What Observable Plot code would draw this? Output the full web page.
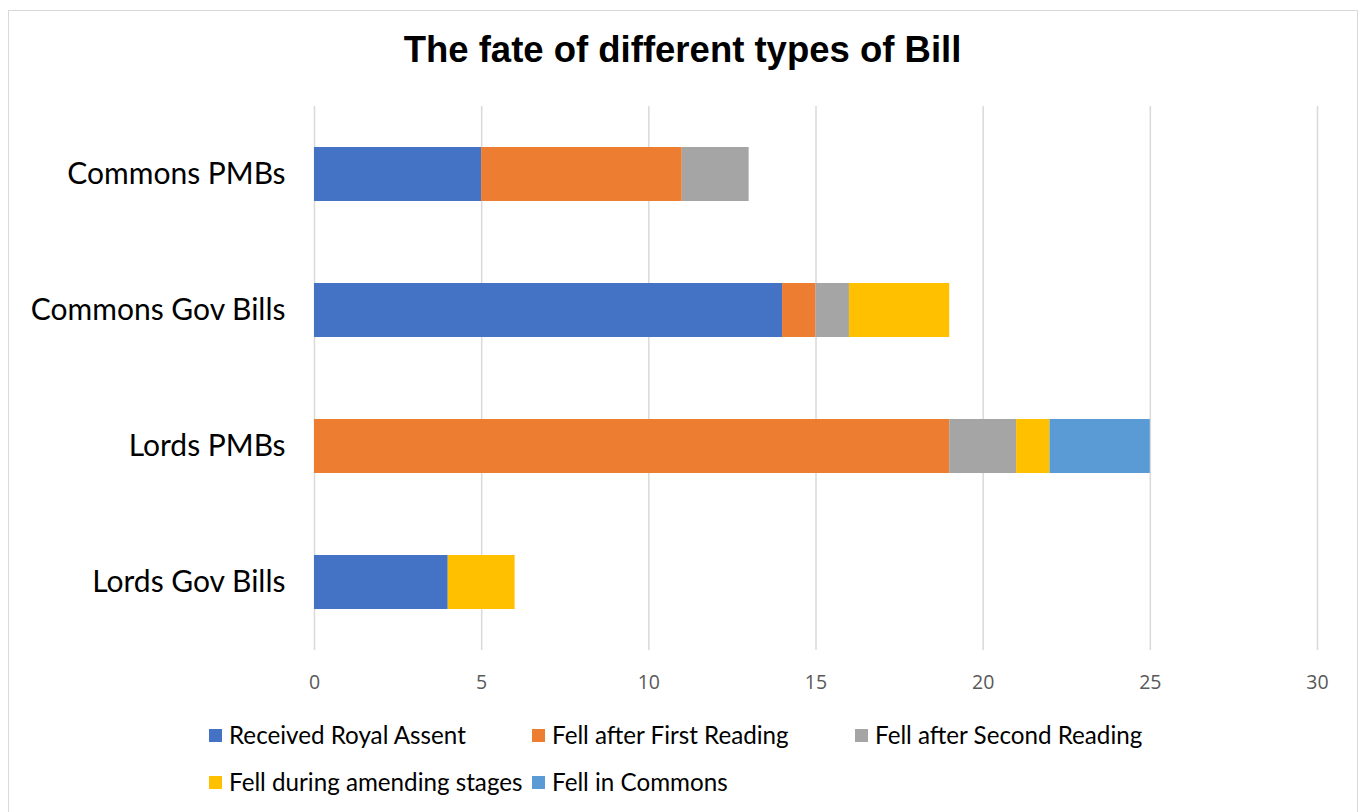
<!DOCTYPE html>
<html>
<head>
<meta charset="utf-8">
<script src="https://cdn.jsdelivr.net/npm/d3@7"></script>
<script src="https://cdn.jsdelivr.net/npm/@observablehq/plot@0.6"></script>
<style>
  html, body { margin: 0; padding: 0; background: #fff; }
  #frame { position: absolute; left: 8px; top: 10px; width: 1350px; height: 820px; border: 1.5px solid #d9d9d9; box-sizing: border-box; }
  #title { position: absolute; left: 0; width: 1365px; top: 29px; text-align: center; font-family: "Liberation Sans", Arial, sans-serif; font-weight: bold; font-size: 36.5px; color: #000; }
  #chart { position: absolute; left: 0; top: 100px; }
  .lg { position: absolute; font-family: Lato, "Noto Sans", sans-serif; font-size: 24.2px; color: #000; white-space: nowrap; line-height: 1; }
  .lg span.sw { position: absolute; left: 0; top: 6px; width: 13px; height: 13px; }
  .lg span.tx { position: absolute; left: 20px; top: 0; }
</style>
</head>
<body>
<div id="frame"></div>
<div id="title">The fate of different types of Bill</div>
<div id="chart"></div>
<div id="legend"></div>
<script>
const categories = ["Commons PMBs", "Commons Gov Bills", "Lords PMBs", "Lords Gov Bills"];
const seriesNames = ["Received Royal Assent", "Fell after First Reading", "Fell after Second Reading", "Fell during amending stages", "Fell in Commons"];
const seriesColors = ["#4472C4", "#ED7D31", "#A5A5A5", "#FFC000", "#5B9BD5"];
const receivedRoyalAssent = [5, 14, 0, 4];
const fellAfterFirstReading = [6, 1, 19, 0];
const fellAfterSecondReading = [2, 1, 2, 0];
const fellDuringAmending = [0, 3, 1, 2];
const fellInCommons = [0, 0, 3, 0];
const xTicks = [0, 5, 10, 15, 20, 25, 30];

const seriesValues = [receivedRoyalAssent, fellAfterFirstReading, fellAfterSecondReading, fellDuringAmending, fellInCommons];
const rows = [];
seriesNames.forEach((s, si) => {
  categories.forEach((c, ci) => {
    rows.push({category: c, series: s, value: seriesValues[si][ci]});
  });
});

const plot = Plot.plot({
  width: 1365,
  height: 600,
  marginLeft: 314,
  marginRight: 48,
  marginTop: 6,
  marginBottom: 50,
  style: { background: "transparent" },
  x: { domain: [0, 30], ticks: xTicks, label: null },
  y: { domain: categories, padding: 0, label: null },
  color: { domain: seriesNames, range: seriesColors },
  marks: [
    Plot.ruleX(xTicks, { stroke: "#d9d9d9", strokeWidth: 1.5 }),
    Plot.barX(rows, Plot.stackX({ x: "value", y: "category", fill: "series", order: seriesNames, insetTop: 41, insetBottom: 41 })),
    Plot.axisX({ ticks: xTicks, tickSize: 0, tickPadding: 25, fontSize: 19.5, fontFamily: "'Open Sans', sans-serif", fill: "#595959", label: null }),
    Plot.axisY({ tickSize: 0, tickPadding: 29, fontSize: 30, fontFamily: "Lato, 'Noto Sans', sans-serif", fill: "#000", label: null })
  ]
});
document.getElementById("chart").appendChild(plot);

const legendPos = [[209, 723], [532, 723], [855, 723], [209, 770], [532, 770]];
const lg = document.getElementById("legend");
seriesNames.forEach((s, i) => {
  const d = document.createElement("div");
  d.className = "lg";
  d.style.left = legendPos[i][0] + "px";
  d.style.top = legendPos[i][1] + "px";
  d.innerHTML = `<span class="sw" style="background:${seriesColors[i]}"></span><span class="tx">${s}</span>`;
  lg.appendChild(d);
});
</script>
</body>
</html>
